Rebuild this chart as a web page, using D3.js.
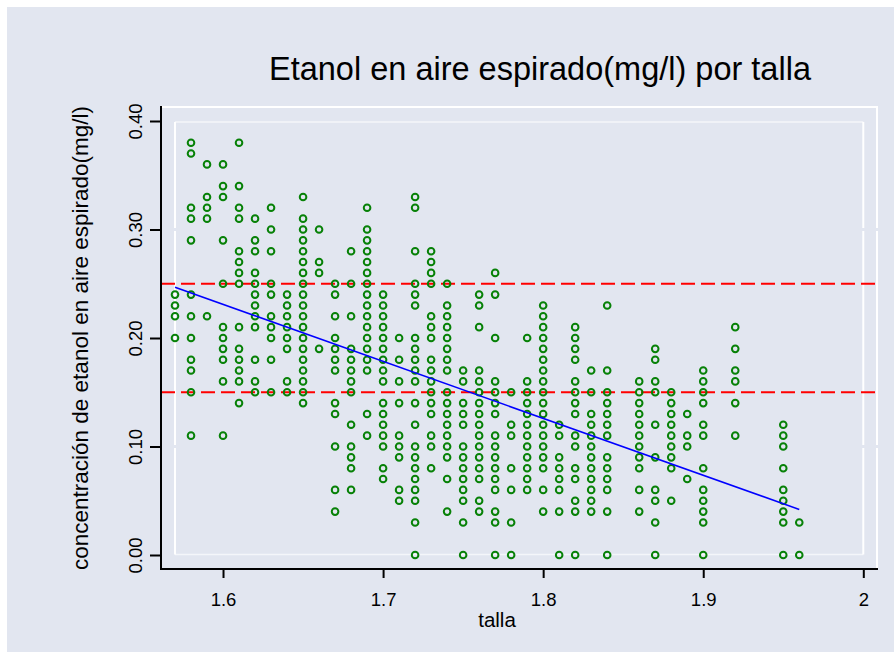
<!DOCTYPE html>
<html>
<head>
<meta charset="utf-8">
<script src="https://cdn.jsdelivr.net/npm/d3@7"></script>
<style>
  body { margin: 0; background: #fff; }
  text { font-family: "Liberation Sans", Arial, sans-serif; fill: #000; }
</style>
</head>
<body>
<svg id="chart"></svg>
<script>
// etanol en aire espirado vs talla (scatter + lfit + reference lines)

var tallas = [1.57, 1.58, 1.59, 1.60, 1.61, 1.62, 1.63, 1.64, 1.65, 1.66, 1.67, 1.68, 1.69, 1.70,
    1.71, 1.72, 1.73, 1.74, 1.75, 1.76, 1.77, 1.78, 1.79, 1.80, 1.81, 1.82, 1.83, 1.84,
    1.86, 1.87, 1.88, 1.89, 1.90, 1.92, 1.95, 1.96]

// one list of observed concentrations per talla
var etanol = [
    [0.24, 0.23, 0.22, 0.20],
    [0.38, 0.37, 0.32, 0.31, 0.29, 0.24, 0.22, 0.20, 0.18, 0.17, 0.15, 0.11],
    [0.36, 0.33, 0.32, 0.31, 0.22],
    [0.36, 0.34, 0.33, 0.29, 0.25, 0.21, 0.20, 0.19, 0.18, 0.16, 0.11],
    [0.38, 0.34, 0.32, 0.31, 0.28, 0.27, 0.26, 0.25, 0.21, 0.19, 0.18, 0.17, 0.16, 0.14],
    [0.31, 0.29, 0.28, 0.26, 0.25, 0.24, 0.23, 0.22, 0.21, 0.18, 0.16, 0.15],
    [0.32, 0.30, 0.28, 0.25, 0.24, 0.22, 0.21, 0.20, 0.18, 0.15],
    [0.24, 0.23, 0.22, 0.21, 0.20, 0.19, 0.16, 0.15],
    [0.33, 0.31, 0.30, 0.29, 0.28, 0.27, 0.26, 0.25, 0.24, 0.23, 0.22, 0.21, 0.20, 0.19, 0.18, 0.17, 0.16, 0.15, 0.14],
    [0.30, 0.27, 0.26, 0.19],
    [0.25, 0.24, 0.22, 0.20, 0.19, 0.18, 0.17, 0.14, 0.13, 0.10, 0.06, 0.04],
    [0.28, 0.25, 0.22, 0.19, 0.18, 0.17, 0.16, 0.15, 0.12, 0.10, 0.09, 0.08, 0.06],
    [0.32, 0.30, 0.29, 0.28, 0.27, 0.26, 0.25, 0.24, 0.23, 0.22, 0.21, 0.20, 0.19, 0.18, 0.17, 0.13, 0.11],
    [0.24, 0.23, 0.22, 0.21, 0.20, 0.19, 0.18, 0.17, 0.16, 0.14, 0.13, 0.12, 0.11, 0.10, 0.08, 0.07],
    [0.20, 0.18, 0.16, 0.14, 0.11, 0.10, 0.09, 0.06, 0.05],
    [0.33, 0.32, 0.28, 0.25, 0.24, 0.23, 0.20, 0.19, 0.18, 0.17, 0.16, 0.14, 0.12, 0.10, 0.09, 0.08, 0.07, 0.06, 0.05, 0.03, 0.00],
    [0.28, 0.27, 0.26, 0.25, 0.22, 0.21, 0.20, 0.18, 0.17, 0.16, 0.15, 0.14, 0.13, 0.11, 0.10, 0.08],
    [0.25, 0.23, 0.22, 0.21, 0.20, 0.19, 0.18, 0.17, 0.15, 0.14, 0.13, 0.12, 0.11, 0.10, 0.09, 0.07, 0.04],
    [0.17, 0.16, 0.14, 0.13, 0.12, 0.10, 0.09, 0.08, 0.07, 0.06, 0.05, 0.03, 0.00],
    [0.24, 0.23, 0.21, 0.17, 0.16, 0.15, 0.14, 0.13, 0.12, 0.11, 0.10, 0.09, 0.08, 0.07, 0.05, 0.04],
    [0.26, 0.24, 0.20, 0.16, 0.15, 0.14, 0.13, 0.11, 0.10, 0.09, 0.08, 0.07, 0.06, 0.04, 0.03, 0.00],
    [0.15, 0.12, 0.11, 0.08, 0.06, 0.03, 0.00],
    [0.20, 0.16, 0.15, 0.14, 0.13, 0.12, 0.11, 0.10, 0.09, 0.08, 0.07, 0.06],
    [0.23, 0.22, 0.21, 0.20, 0.19, 0.18, 0.17, 0.16, 0.15, 0.14, 0.13, 0.12, 0.11, 0.10, 0.09, 0.08, 0.06, 0.04],
    [0.12, 0.11, 0.09, 0.08, 0.07, 0.06, 0.04, 0.00],
    [0.21, 0.20, 0.19, 0.18, 0.16, 0.15, 0.14, 0.13, 0.11, 0.10, 0.08, 0.07, 0.05, 0.04, 0.00],
    [0.17, 0.15, 0.13, 0.12, 0.11, 0.10, 0.09, 0.08, 0.07, 0.06, 0.05, 0.04],
    [0.23, 0.17, 0.15, 0.14, 0.13, 0.12, 0.11, 0.09, 0.08, 0.07, 0.06, 0.04, 0.00],
    [0.16, 0.15, 0.14, 0.13, 0.12, 0.11, 0.10, 0.09, 0.08, 0.06, 0.04],
    [0.19, 0.18, 0.16, 0.15, 0.12, 0.09, 0.06, 0.05, 0.03, 0.00],
    [0.15, 0.14, 0.13, 0.12, 0.11, 0.10, 0.09, 0.08, 0.05],
    [0.13, 0.11, 0.10, 0.07],
    [0.17, 0.16, 0.15, 0.14, 0.12, 0.11, 0.08, 0.06, 0.05, 0.04, 0.03, 0.00],
    [0.21, 0.19, 0.17, 0.16, 0.14, 0.11],
    [0.12, 0.11, 0.10, 0.08, 0.06, 0.05, 0.04, 0.03, 0.00],
    [0.03, 0.00]
]

// fitted line and reference lines
var fitX = [1.57, 1.96]
var fitY = [0.2467, 0.042]
var refLines = [0.25, 0.15]

var yTicks = [0, 0.1, 0.2, 0.3, 0.4]
var xTicks = [1.6, 1.7, 1.8, 1.9, 2]
var xTickLabels = ['1.6', '1.7', '1.8', '1.9', '2']

var points = []
tallas.forEach(function(t, i) {
    etanol[i].forEach(function(v) { points.push({ talla: t, etanol: v }) })
})

//// svg and frame

var width = 894,
    height = 652;

var frame = { left: 161, right: 877, top: 107, bottom: 569 }

var svg = d3.select('#chart')
    .attr('width', width)
    .attr('height', height)

svg.append('rect')
    .attr('x', 7).attr('y', 7)
    .attr('width', width - 7).attr('height', height - 7)
    .attr('fill', '#e2e6f0')

var xScale = d3.scaleLinear()
    .domain([1.57, 2])
    .range([175, 863.3])

var yScale = d3.scaleLinear()
    .domain([0, 0.4])
    .range([555, 121])

// white borders (outer and inner), vertical ones broken at 0.30 and 0.10
var gaps = [0.3, 0.1].map(yScale).sort(d3.ascending)

function vLine(x, y0, y1, w) {
    var cuts = [y0].concat(gaps.flatMap(g => [g - 1.5, g + 1.5])).concat([y1])
    for (var i = 0; i < cuts.length; i += 2) {
        svg.append('line')
            .attr('x1', x).attr('x2', x)
            .attr('y1', cuts[i]).attr('y2', cuts[i + 1])
            .attr('stroke', '#fff').attr('stroke-width', w)
    }
}

svg.append('line')
    .attr('x1', frame.left).attr('x2', frame.right + 1)
    .attr('y1', frame.top).attr('y2', frame.top)
    .attr('stroke', '#fff').attr('stroke-width', 2)
vLine(frame.right, frame.top, frame.bottom, 2)

var inner = { l: xScale(1.57), r: xScale(2), t: yScale(0.4) + 1, b: yScale(0) - 0.5 }
svg.append('line')
    .attr('x1', inner.l).attr('x2', inner.r)
    .attr('y1', inner.t).attr('y2', inner.t)
    .attr('stroke', '#f4f6fa').attr('stroke-width', 1.5)
svg.append('line')
    .attr('x1', inner.l).attr('x2', inner.r)
    .attr('y1', inner.b).attr('y2', inner.b)
    .attr('stroke', '#f4f6fa').attr('stroke-width', 1.5)
vLine(inner.l, inner.t, inner.b, 2)
vLine(inner.r, inner.t, inner.b, 2)

//// reference lines

svg.selectAll('.ref')
    .data(refLines)
    .enter()
    .append('line')
    .attr('class', 'ref')
    .attr('x1', frame.left).attr('x2', frame.right)
    .attr('y1', d => yScale(d)).attr('y2', d => yScale(d))
    .attr('stroke', '#ff0000')
    .attr('stroke-width', 2)
    .attr('stroke-dasharray', '14,6')

//// points

svg.append('g')
    .selectAll('circle')
    .data(points)
    .enter()
    .append('circle')
    .attr('cx', d => xScale(d.talla))
    .attr('cy', d => yScale(d.etanol))
    .attr('r', 3.3)
    .attr('fill', 'none')
    .attr('stroke', '#078107')
    .attr('stroke-width', 2)

//// fitted line

svg.append('path')
    .datum(fitX.map((x, i) => [x, fitY[i]]))
    .attr('d', d3.line().x(d => xScale(d[0])).y(d => yScale(d[1])))
    .attr('fill', 'none')
    .attr('stroke', '#0000ff')
    .attr('stroke-width', 1.6)

//// axes

var yAxis = d3.axisLeft(yScale)
    .tickValues(yTicks)
    .tickFormat(d3.format('.2f'))
    .tickSize(11)

var xAxis = d3.axisBottom(xScale)
    .tickValues(xTicks)
    .tickFormat((d, i) => xTickLabels[i])
    .tickSize(9)

var gy = svg.append('g')
    .attr('transform', 'translate(' + frame.left + ',0)')
    .call(yAxis)
gy.select('.domain').remove()
gy.selectAll('line').attr('stroke', '#000').attr('stroke-width', 2)
gy.selectAll('text')
    .attr('transform', 'rotate(-90)')
    .attr('x', 0).attr('y', -19).attr('dy', 0)
    .style('text-anchor', 'middle')
    .style('font-size', '18.5px')

var gx = svg.append('g')
    .attr('transform', 'translate(0,' + frame.bottom + ')')
    .call(xAxis)
gx.select('.domain').remove()
gx.selectAll('line').attr('stroke', '#000').attr('stroke-width', 2)
gx.selectAll('text')
    .attr('y', 37).attr('dy', 0)
    .style('font-size', '18.5px')

svg.append('line')
    .attr('x1', frame.left).attr('x2', frame.left)
    .attr('y1', frame.top - 1).attr('y2', frame.bottom + 1)
    .attr('stroke', '#000').attr('stroke-width', 2)
svg.append('line')
    .attr('x1', frame.left - 1).attr('x2', frame.right + 1)
    .attr('y1', frame.bottom).attr('y2', frame.bottom)
    .attr('stroke', '#000').attr('stroke-width', 2)

//// titles

svg.append('text')
    .attr('x', 540).attr('y', 80)
    .style('text-anchor', 'middle')
    .style('font-size', '32.5px')
    .text('Etanol en aire espirado(mg/l) por talla')

svg.append('text')
    .attr('x', 497).attr('y', 627)
    .style('text-anchor', 'middle')
    .style('font-size', '20.5px')
    .text('talla')

svg.append('text')
    .attr('transform', 'translate(88,' + yScale(0.2) + ') rotate(-90)')
    .style('text-anchor', 'middle')
    .style('font-size', '22.5px')
    .text('concentración de etanol en aire espirado(mg/l)')
</script>
</body>
</html>
